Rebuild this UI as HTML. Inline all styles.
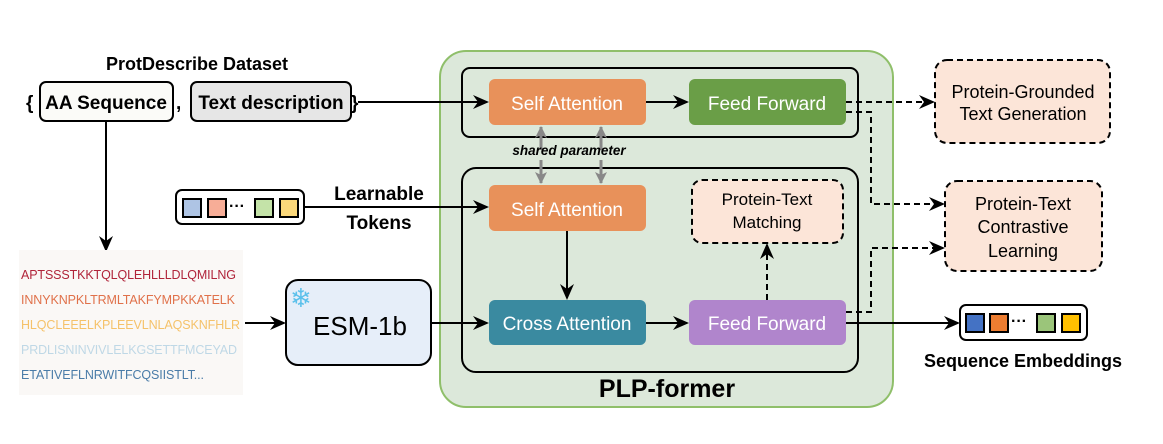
<!DOCTYPE html>
<html><head><style>body{margin:0;background:#fff}</style></head><body>
<svg width="1163" height="439" viewBox="0 0 1163 439" xmlns="http://www.w3.org/2000/svg" font-family="Liberation Sans, Arial, sans-serif">
<defs>
<marker id="a" markerWidth="16" markerHeight="16" refX="14" refY="8" orient="auto" markerUnits="userSpaceOnUse"><path d="M0,1 L16,8 L0,15 L5,8 z" fill="#000"/></marker>
<marker id="g" markerWidth="12" markerHeight="14" refX="11" refY="6" orient="auto" markerUnits="userSpaceOnUse"><path d="M0,0 L12,6 L0,12 L3,6 z" fill="#888"/></marker>
</defs>
<rect x="440" y="51" width="453" height="356" rx="26" fill="#dce8da" stroke="#8fbf6a" stroke-width="2"/>
<rect x="462" y="68" width="396" height="69" rx="8" fill="none" stroke="#000" stroke-width="2"/>
<rect x="462" y="168" width="396" height="204" rx="14" fill="none" stroke="#000" stroke-width="2"/>
<rect x="489" y="79" width="157" height="46" rx="6" fill="#e8915a"/>
<text x="567" y="110" font-size="19" fill="#fff" text-anchor="middle">Self Attention</text>
<rect x="689" y="79" width="157" height="46" rx="6" fill="#6a9e47"/>
<text x="767" y="110" font-size="19" fill="#fff" text-anchor="middle">Feed Forward</text>
<rect x="489" y="185" width="157" height="46" rx="6" fill="#e8915a"/>
<text x="567" y="216" font-size="19" fill="#fff" text-anchor="middle">Self Attention</text>
<rect x="489" y="300" width="157" height="45" rx="6" fill="#3a8aa0"/>
<text x="567" y="330" font-size="19" fill="#fff" text-anchor="middle">Cross Attention</text>
<rect x="689" y="300" width="157" height="45" rx="6" fill="#b085cc"/>
<text x="767" y="330" font-size="19" fill="#fff" text-anchor="middle">Feed Forward</text>
<rect x="692" y="180" width="151" height="63" rx="10" fill="#fce5d8" stroke="#000" stroke-width="2" stroke-dasharray="6,4"/>
<text x="767" y="205" font-size="17" text-anchor="middle">Protein-Text</text>
<text x="767" y="228" font-size="17" text-anchor="middle">Matching</text>
<text x="667" y="397" font-size="25" font-weight="bold" text-anchor="middle">PLP-former</text>
<line x1="541" y1="150" x2="541" y2="127" stroke="#888" stroke-width="3" marker-end="url(#g)"/>
<line x1="541" y1="160" x2="541" y2="183" stroke="#888" stroke-width="3" marker-end="url(#g)"/>
<line x1="601" y1="150" x2="601" y2="127" stroke="#888" stroke-width="3" marker-end="url(#g)"/>
<line x1="601" y1="160" x2="601" y2="183" stroke="#888" stroke-width="3" marker-end="url(#g)"/>
<text x="569" y="155" font-size="13.5" font-weight="bold" font-style="italic" text-anchor="middle">shared parameter</text>
<line x1="646" y1="102" x2="687" y2="102" stroke="#000" stroke-width="2" marker-end="url(#a)"/>
<line x1="567" y1="231" x2="567" y2="298" stroke="#000" stroke-width="2" marker-end="url(#a)"/>
<line x1="646" y1="323" x2="687" y2="323" stroke="#000" stroke-width="2" marker-end="url(#a)"/>
<line x1="767" y1="300" x2="767" y2="245" stroke="#000" stroke-width="2" stroke-dasharray="6,4" marker-end="url(#a)"/>
<text x="197" y="70" font-size="18" font-weight="bold" text-anchor="middle">ProtDescribe Dataset</text>
<text x="26" y="109" font-size="19" font-weight="bold">{</text>
<rect x="40" y="82" width="133" height="39" rx="6" fill="#fbfbf8" stroke="#000" stroke-width="2"/>
<text x="106" y="109" font-size="19" font-weight="bold" text-anchor="middle">AA Sequence</text>
<text x="176" y="109" font-size="19" font-weight="bold">,</text>
<rect x="191" y="82" width="160" height="39" rx="6" fill="#e6e6e6" stroke="#000" stroke-width="2"/>
<text x="271" y="109" font-size="19" font-weight="bold" text-anchor="middle">Text description</text>
<text x="351" y="109" font-size="19" font-weight="bold">}</text>
<line x1="358" y1="102" x2="487" y2="102" stroke="#000" stroke-width="2" marker-end="url(#a)"/>
<line x1="106" y1="121" x2="106" y2="250" stroke="#000" stroke-width="2" marker-end="url(#a)"/>
<rect x="19" y="250" width="224" height="145" fill="#faf8f6"/>
<g font-size="12.5">
<text x="21" y="279" fill="#b0243a" textLength="215">APTSSSTKKTQLQLEHLLLDLQMILNG</text>
<text x="21" y="304" fill="#e0714a" textLength="214">INNYKNPKLTRMLTAKFYMPKKATELK</text>
<text x="21" y="329" fill="#f5c26a" textLength="219">HLQCLEEELKPLEEVLNLAQSKNFHLR</text>
<text x="21" y="354" fill="#bfd8e6" textLength="216">PRDLISNINVIVLELKGSETTFMCEYAD</text>
<text x="21" y="379" fill="#4a7ca8" textLength="183">ETATIVEFLNRWITFCQSIISTLT...</text>
</g>
<line x1="245" y1="323" x2="284" y2="323" stroke="#000" stroke-width="2" marker-end="url(#a)"/>
<rect x="286" y="280" width="145" height="85" rx="12" fill="#e6eef9" stroke="#000" stroke-width="2"/>
<text x="290" y="307" font-size="26" fill="#5bc0eb">❄</text>
<text x="360" y="335" font-size="26" text-anchor="middle">ESM-1b</text>
<line x1="431" y1="323" x2="487" y2="323" stroke="#000" stroke-width="2" marker-end="url(#a)"/>
<rect x="176" y="190" width="128" height="34" rx="6" fill="#fff" stroke="#000" stroke-width="2"/>
<rect x="183" y="199" width="18" height="18" fill="#aec4e4" stroke="#000" stroke-width="2"/>
<rect x="208" y="199" width="18" height="18" fill="#f7ad97" stroke="#000" stroke-width="2"/>
<text x="229" y="211" font-size="16" font-weight="bold">···</text>
<rect x="255" y="199" width="18" height="18" fill="#c4e3a8" stroke="#000" stroke-width="2"/>
<rect x="280" y="199" width="18" height="18" fill="#fbd87a" stroke="#000" stroke-width="2"/>
<text x="379" y="200" font-size="19" font-weight="bold" text-anchor="middle">Learnable</text>
<text x="379" y="229" font-size="19" font-weight="bold" text-anchor="middle">Tokens</text>
<line x1="304" y1="207" x2="487" y2="207" stroke="#000" stroke-width="2" marker-end="url(#a)"/>
<rect x="935" y="60" width="175" height="83" rx="12" fill="#fce5d8" stroke="#000" stroke-width="2" stroke-dasharray="6,4"/>
<text x="1023" y="98" font-size="18" text-anchor="middle">Protein-Grounded</text>
<text x="1023" y="120" font-size="18" text-anchor="middle">Text Generation</text>
<rect x="945" y="181" width="157" height="90" rx="12" fill="#fce5d8" stroke="#000" stroke-width="2" stroke-dasharray="6,4"/>
<text x="1023" y="210" font-size="18" text-anchor="middle">Protein-Text</text>
<text x="1023" y="233" font-size="18" text-anchor="middle">Contrastive</text>
<text x="1023" y="257" font-size="18" text-anchor="middle">Learning</text>
<g fill="none" stroke="#000" stroke-width="2" stroke-dasharray="6,4">
<polyline points="846,102 933,102" marker-end="url(#a)"/>
<polyline points="846,112 871,112 871,204 943,204" marker-end="url(#a)"/>
<polyline points="846,312 871,312 871,248 943,248" marker-end="url(#a)"/>
</g>
<line x1="846" y1="323" x2="958" y2="323" stroke="#000" stroke-width="2" marker-end="url(#a)"/>
<rect x="960" y="305" width="127" height="35" rx="6" fill="#fff" stroke="#000" stroke-width="2"/>
<rect x="966" y="314" width="18" height="18" fill="#4472c4" stroke="#000" stroke-width="2"/>
<rect x="990" y="314" width="18" height="18" fill="#ed7d31" stroke="#000" stroke-width="2"/>
<text x="1011" y="326" font-size="16" font-weight="bold">···</text>
<rect x="1037" y="314" width="18" height="18" fill="#9bc57a" stroke="#000" stroke-width="2"/>
<rect x="1062" y="314" width="18" height="18" fill="#ffc000" stroke="#000" stroke-width="2"/>
<text x="1023" y="367" font-size="18" font-weight="bold" text-anchor="middle">Sequence Embeddings</text>
</svg>
</body></html>
